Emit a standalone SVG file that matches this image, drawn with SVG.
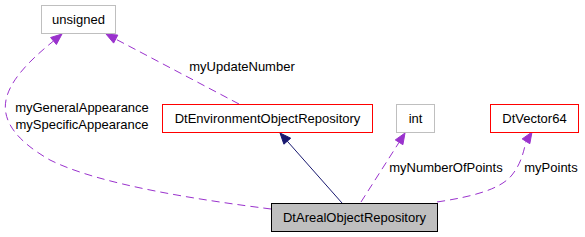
<svg xmlns="http://www.w3.org/2000/svg" width="585" height="237" viewBox="0 0 585 237">
<style>
text{font-family:"Liberation Sans",Arial,Helvetica,sans-serif;font-size:13px;fill:#000;text-anchor:middle}
.red{fill:#fff;stroke:#ff0000;stroke-width:1}
.gray{fill:#fff;stroke:#bfbfbf;stroke-width:1}
.main{fill:#bfbfbf;stroke:#000;stroke-width:1}
.dash{fill:none;stroke:#9a32cd;stroke-width:1;stroke-dasharray:8,5}
.ah{fill:#9a32cd;stroke:#9a32cd}
.inh{fill:none;stroke:#191970;stroke-width:1}
.ahn{fill:#191970;stroke:#191970}
</style>
<rect width="585" height="237" fill="#fff"/>
<g id="connectors">
<path class="inh" d="M342,203 L287.3,141.2"/>
<polygon class="ahn" points="280,133 290.7,138.2 283.9,144.2"/>
<path class="dash" d="M239,104 L115.7,39.1"/>
<polygon class="ah" points="106,34 117.8,35.1 113.6,43.1"/>
<path class="dash" d="M271,209 C200,200 100,185 50,160 C15,140 2,120 6,100 C10,80 30,60 53.5,41"/>
<polygon class="ah" points="62,34 56.4,44.5 50.6,37.5"/>
<path class="dash" d="M361,202 L399.1,142.3"/>
<polygon class="ah" points="405,133 402.9,144.7 395.3,139.9"/>
<path class="dash" d="M437,202 C470,197 500,190 512,175 C520,165 523,155 526,141.3"/>
<polygon class="ah" points="532,132 529.8,143.7 522.2,138.9"/>
<text x="242" y="71">myUpdateNumber</text>
<text x="82" y="112">myGeneralAppearance</text>
<text x="82" y="129">mySpecificAppearance</text>
<text x="446" y="172">myNumberOfPoints</text>
<text x="551" y="172">myPoints</text>
</g>
<g id="node-unsigned">
<rect class="gray" x="41.5" y="5.5" width="74" height="28"/>
<text x="78.5" y="24">unsigned</text>
</g>
<g id="node-DtEnvironmentObjectRepository">
<rect class="red" x="162.5" y="104.5" width="210" height="28"/>
<text x="267.5" y="123">DtEnvironmentObjectRepository</text>
</g>
<g id="node-int">
<rect class="gray" x="396.5" y="104.5" width="38" height="28"/>
<text x="415.5" y="123">int</text>
</g>
<g id="node-DtVector64">
<rect class="red" x="490.5" y="104.5" width="88" height="28"/>
<text x="534.5" y="123">DtVector64</text>
</g>
<g id="node-DtArealObjectRepository">
<rect class="main" x="271.5" y="203.5" width="166" height="28"/>
<text x="354.5" y="222">DtArealObjectRepository</text>
</g>
</svg>
